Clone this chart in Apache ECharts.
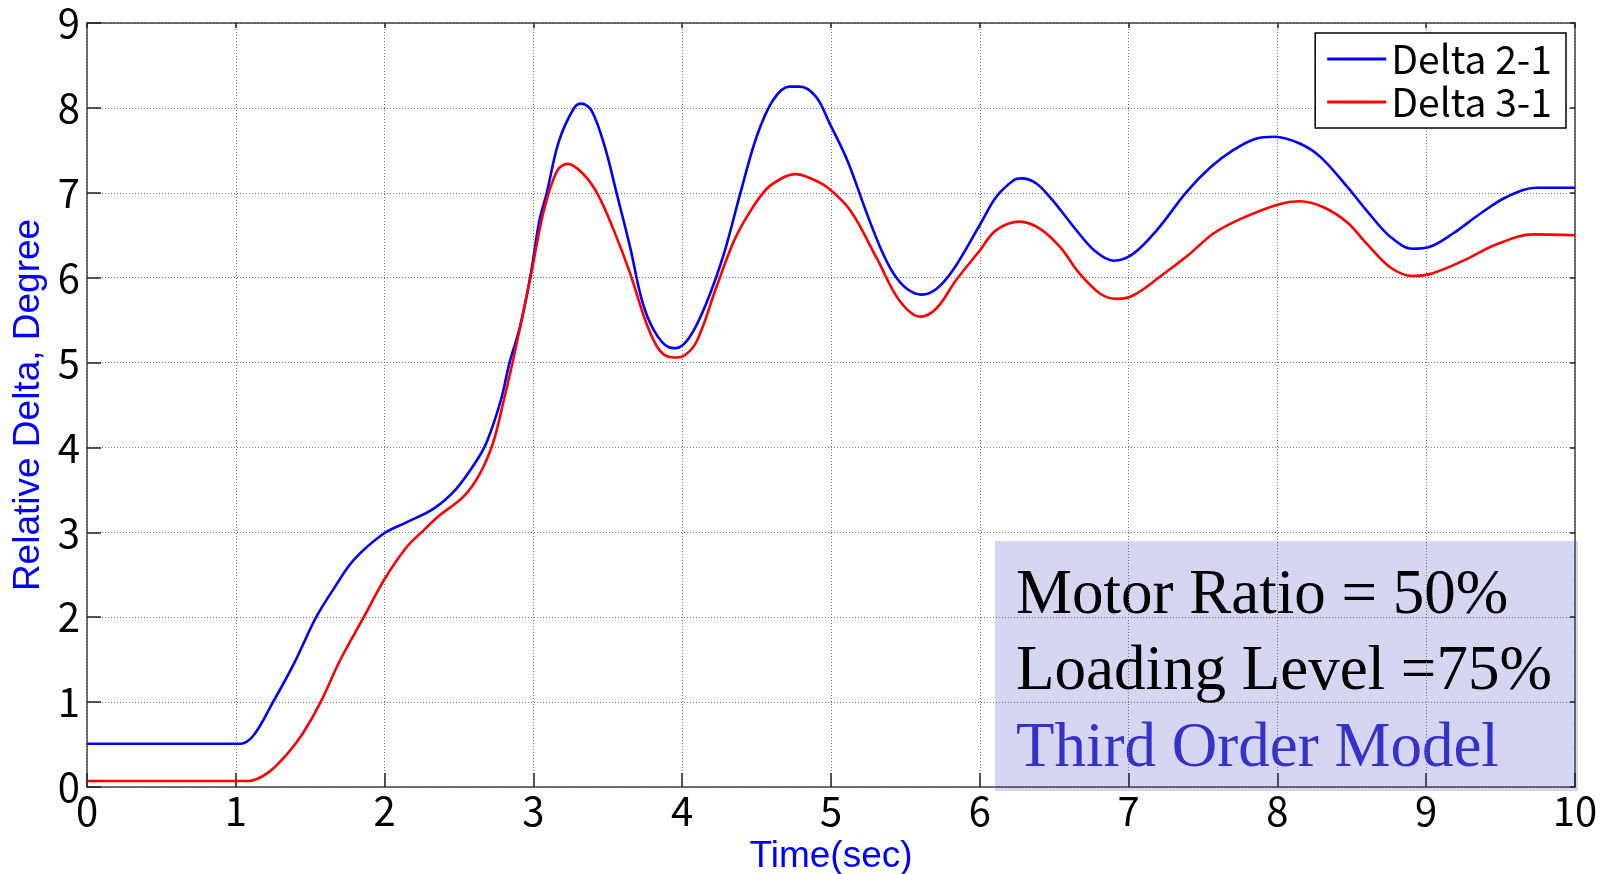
<!DOCTYPE html>
<html>
<head>
<meta charset="utf-8">
<script src="https://cdn.jsdelivr.net/npm/echarts@6/dist/echarts.min.js"></script>
<style>
html,body{margin:0;padding:0;background:#fff;}
#chart{width:1606px;height:874px;}
</style>
</head>
<body>
<div id="chart"></div>
<script>
// ---- data ----
const xTicks = [0,1,2,3,4,5,6,7,8,9,10];
const yTicks = [0,1,2,3,4,5,6,7,8,9];
const seriesNames = ['Delta 2-1', 'Delta 3-1'];

const timeDelta21 = [0, 1.03, 1.12, 1.25, 1.39, 1.54, 1.66, 1.79, 1.99, 2.15, 2.33, 2.48, 2.62, 2.69, 2.78, 2.84, 2.91, 2.98, 3.04, 3.09, 3.17, 3.27, 3.32, 3.39, 3.48, 3.56, 3.65, 3.73, 3.81, 3.91, 3.96, 4.05, 4.16, 4.28, 4.39, 4.50, 4.61, 4.72, 4.79, 4.90, 4.99, 5.11, 5.24, 5.34, 5.42, 5.51, 5.61, 5.71, 5.82, 6.00, 6.11, 6.23, 6.28, 6.38, 6.49, 6.63, 6.77, 6.90, 7.03, 7.19, 7.39, 7.55, 7.70, 7.86, 7.98, 8.15, 8.29, 8.47, 8.60, 8.76, 8.91, 9.02, 9.18, 9.36, 9.54, 9.74, 10];
const delta21 = [0.51, 0.51, 0.61, 1.0, 1.45, 2.0, 2.34, 2.67, 2.98, 3.12, 3.28, 3.51, 3.85, 4.08, 4.55, 5.0, 5.42, 6.02, 6.67, 7.0, 7.6, 7.99, 8.05, 7.97, 7.54, 6.99, 6.36, 5.73, 5.38, 5.18, 5.17, 5.30, 5.69, 6.28, 6.99, 7.66, 8.09, 8.25, 8.25, 8.13, 7.82, 7.38, 6.76, 6.32, 6.05, 5.87, 5.80, 5.87, 6.09, 6.62, 6.95, 7.15, 7.17, 7.11, 6.91, 6.60, 6.32, 6.20, 6.28, 6.56, 7.01, 7.30, 7.50, 7.64, 7.66, 7.58, 7.42, 7.07, 6.79, 6.48, 6.34, 6.36, 6.52, 6.75, 6.95, 7.06, 7.06];

const timeDelta31 = [0, 1.08, 1.21, 1.35, 1.45, 1.57, 1.70, 1.86, 2.0, 2.15, 2.26, 2.37, 2.53, 2.64, 2.73, 2.80, 2.86, 2.98, 3.07, 3.16, 3.23, 3.33, 3.43, 3.54, 3.65, 3.76, 3.85, 3.94, 4.01, 4.10, 4.23, 4.35, 4.46, 4.57, 4.68, 4.76, 4.85, 4.97, 5.13, 5.31, 5.46, 5.60, 5.71, 5.84, 6.00, 6.11, 6.27, 6.40, 6.54, 6.67, 6.81, 6.92, 7.03, 7.21, 7.41, 7.57, 7.75, 8.00, 8.15, 8.31, 8.47, 8.60, 8.76, 8.91, 9.04, 9.25, 9.47, 9.72, 10];
const delta31 = [0.07, 0.07, 0.16, 0.40, 0.63, 1.0, 1.49, 2.0, 2.45, 2.83, 3.02, 3.2, 3.42, 3.69, 4.06, 4.55, 5.0, 6.0, 6.79, 7.26, 7.34, 7.23, 6.99, 6.56, 6.05, 5.46, 5.14, 5.06, 5.08, 5.26, 5.89, 6.44, 6.79, 7.05, 7.18, 7.22, 7.18, 7.07, 6.79, 6.22, 5.73, 5.54, 5.64, 5.97, 6.32, 6.56, 6.66, 6.58, 6.36, 6.05, 5.81, 5.75, 5.79, 6.01, 6.28, 6.52, 6.69, 6.86, 6.90, 6.83, 6.65, 6.40, 6.12, 6.02, 6.05, 6.20, 6.39, 6.51, 6.50];

const annotationLines = ['Motor Ratio = 50%', 'Loading Level =75%', 'Third Order Model'];

// ---- chart ----
const chart = echarts.init(document.getElementById('chart'), null, {renderer: 'canvas'});
const tickFont = 'Noto Sans CJK JP';
const gridLine = {show: true, lineStyle: {color: '#777', type: [1, 2], width: 1}};
const axisLineStyle = {color: '#444', width: 1.5};

const option = {
  backgroundColor: '#fff',
  animation: false,
  grid: {left: 87, right: 31, top: 23, bottom: 87, outerBoundsMode: 'none', containLabel: false},
  legend: {
    data: seriesNames.map(n => ({name: n, icon: 'rect'})),
    orient: 'vertical',
    right: 40,
    top: 33,
    padding: [6, 14, 6, 12],
    itemGap: 3,
    itemWidth: 59,
    itemHeight: 3,
    borderColor: '#000',
    borderWidth: 1.5,
    backgroundColor: '#fff',
    textStyle: {fontFamily: tickFont, fontSize: 39, color: '#000', lineHeight: 40}
  },
  xAxis: [{
    type: 'value', min: 0, max: 10, interval: 1,
    name: 'Time(sec)', nameLocation: 'middle', nameGap: 51,
    nameTextStyle: {fontFamily: 'Liberation Sans', fontSize: 37, color: '#0000FF'},
    axisLine: {show: true, onZero: false, lineStyle: axisLineStyle},
    axisTick: {show: true, inside: true, length: 14, lineStyle: {color: '#222', width: 1.5}},
    axisLabel: {fontFamily: tickFont, fontSize: 40, color: '#000', margin: 4,
      formatter: v => xTicks.includes(v) ? String(v) : ''},
    splitLine: gridLine
  }, {
    type: 'value', min: 0, max: 10, interval: 1, position: 'top',
    axisLine: {show: true, onZero: false, lineStyle: axisLineStyle},
    axisTick: {show: true, inside: true, length: 5, lineStyle: {color: '#222', width: 1.5}},
    axisLabel: {show: false}, splitLine: {show: false}
  }],
  yAxis: [{
    type: 'value', min: 0, max: 9, interval: 1,
    name: 'Relative Delta, Degree', nameLocation: 'middle', nameGap: 34,
    nameTextStyle: {fontFamily: 'Liberation Sans', fontSize: 37, color: '#0000FF'},
    axisLine: {show: true, onZero: false, lineStyle: axisLineStyle},
    axisTick: {show: true, inside: true, length: 14, lineStyle: {color: '#222', width: 1.5}},
    axisLabel: {fontFamily: tickFont, fontSize: 40, color: '#000', margin: 7,
      formatter: v => yTicks.includes(v) ? String(v) : ''},
    splitLine: gridLine
  }, {
    type: 'value', min: 0, max: 9, interval: 1, position: 'right',
    axisLine: {show: true, onZero: false, lineStyle: axisLineStyle},
    axisTick: {show: true, inside: true, length: 5, lineStyle: {color: '#222', width: 1.5}},
    axisLabel: {show: false}, splitLine: {show: false}
  }],
  series: [{
    name: seriesNames[0], type: 'line', xAxisIndex: 0, yAxisIndex: 0,
    data: timeDelta21.map((t, i) => [t, delta21[i]]),
    symbol: 'none', smooth: 0.35,
    lineStyle: {color: '#0000FF', width: 2.6}, itemStyle: {color: '#0000FF'}, z: 3
  }, {
    name: seriesNames[1], type: 'line', xAxisIndex: 0, yAxisIndex: 0,
    data: timeDelta31.map((t, i) => [t, delta31[i]]),
    symbol: 'none', smooth: 0.35,
    lineStyle: {color: '#FF0000', width: 2.6}, itemStyle: {color: '#FF0000'}, z: 4
  }],
  graphic: [{
    type: 'group', z: 100, left: 995, top: 541,
    children: [
      {type: 'rect', shape: {x: 0, y: 0, width: 583, height: 250}, style: {fill: '#D6D6F2'}},
      {type: 'text', x: 21, y: 55, style: {text: annotationLines[0], font: '63px "Liberation Serif"', fill: '#000', verticalAlign: 'middle'}},
      {type: 'text', x: 21, y: 131, style: {text: annotationLines[1], font: '63px "Liberation Serif"', fill: '#000', verticalAlign: 'middle'}},
      {type: 'text', x: 21, y: 208, style: {text: annotationLines[2], font: '63px "Liberation Serif"', fill: '#3333CC', verticalAlign: 'middle'}}
    ]
  }]
};
chart.setOption(option);
</script>
</body>
</html>
